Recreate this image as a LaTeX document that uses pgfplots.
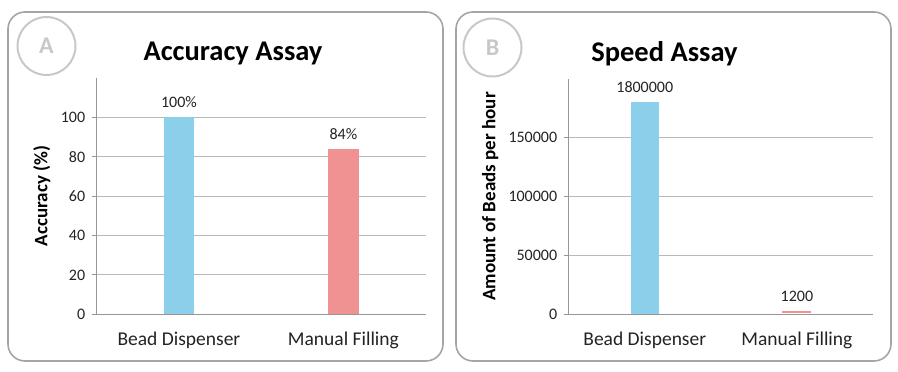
\documentclass[border=0pt]{standalone}
\usepackage{pgfplots}
\pgfplotsset{compat=1.18}
\usepackage{fontspec}
\setmainfont{Carlito}
\definecolor{barblue}{RGB}{139,207,235}
\definecolor{barpink}{RGB}{240,146,146}
\definecolor{gridgray}{RGB}{185,185,185}
\definecolor{axisgray}{RGB}{150,150,150}
\definecolor{framegray}{RGB}{165,165,165}
\definecolor{circgray}{RGB}{200,200,200}
\definecolor{txt}{RGB}{35,35,35}
\pgfplotsset{panel/.style={
  scale only axis, anchor=south west,
  xmin=-0.5, xmax=1.5, ymin=0,
  xtick={0,1}, xticklabels={Bead Dispenser, Manual Filling},
  x tick style={draw=none},
  axis x line=bottom, axis y line=left,
  axis line style={draw=axisgray, line width=0.8pt, -},
  ymajorgrids, grid style={draw=gridgray, line width=0.8pt},
  y tick style={draw=axisgray, line width=0.8pt}, tick align=outside, major tick length=5pt,
  /pgf/number format/assume math mode=true,
  /pgf/number format/fixed,
  /pgf/number format/1000 sep={},
  yticklabel style={font=\fontsize{16}{19}\selectfont, text=txt, xshift=-3pt},
  xticklabel style={font=\fontsize{19.5}{22}\selectfont, text=txt, yshift=-9pt},
  ylabel style={font=\bfseries\fontsize{19}{22}\selectfont, text=black, anchor=center},
  ybar, bar shift=0pt,
  every node near coord/.append style={font=\fontsize{16}{19}\selectfont, text=txt, yshift=6pt},
}}
\begin{document}
\begin{tikzpicture}[x=1pt,y=1pt]
\path[use as bounding box] (0,0) rectangle (898,372);
\draw[framegray, line width=1.6pt, rounded corners=17pt] (8,11) rectangle (443,360);
\draw[framegray, line width=1.6pt, rounded corners=17pt] (456,11) rectangle (891,360);
\draw[circgray, line width=2pt] (46.5,326) circle (29);
\node[text=circgray, font=\bfseries\fontsize{24}{27}\selectfont] at (46.5,326) {A};
\draw[circgray, line width=2pt] (492.5,324.5) circle (29);
\node[text=circgray, font=\bfseries\fontsize{24}{27}\selectfont] at (492.5,324.5) {B};
\node[font=\bfseries\fontsize{28.5}{32}\selectfont] at (233,318) {Accuracy Assay};
\node[font=\bfseries\fontsize{28.5}{32}\selectfont] at (664.5,318) {Speed Assay};
\begin{axis}[panel, at={(96.7pt,57.7pt)}, width=329pt, height=236.4pt,
  ymax=120, ytick={0,20,40,60,80,100}, bar width=0.187,
  ylabel={Accuracy (\%)}, ylabel style={at={(axis description cs:-0.167,0.5)}},
  point meta=explicit symbolic, nodes near coords={\pgfplotspointmeta}]
\addplot[draw=none, fill=barblue] coordinates {(0,100) [100\%]};
\addplot[draw=none, fill=barpink] coordinates {(1,84) [84\%]};
\end{axis}
\begin{axis}[panel, at={(568.7pt,58pt)}, width=304.3pt, height=235pt,
  ymax=200000, ytick={0,50000,100000,150000}, bar width=0.184,
  scaled y ticks=false,
  ylabel={Amount of Beads per hour}, ylabel style={at={(axis description cs:-0.258,0.5)}},
  point meta=explicit symbolic, nodes near coords={\pgfplotspointmeta}]
\addplot[draw=none, fill=barblue] coordinates {(0,180000) [1800000]};
\addplot[draw=barpink, line width=1pt, fill=barpink, yshift=1pt] coordinates {(1,1200) [1200]};
\end{axis}
\end{tikzpicture}
\end{document}
